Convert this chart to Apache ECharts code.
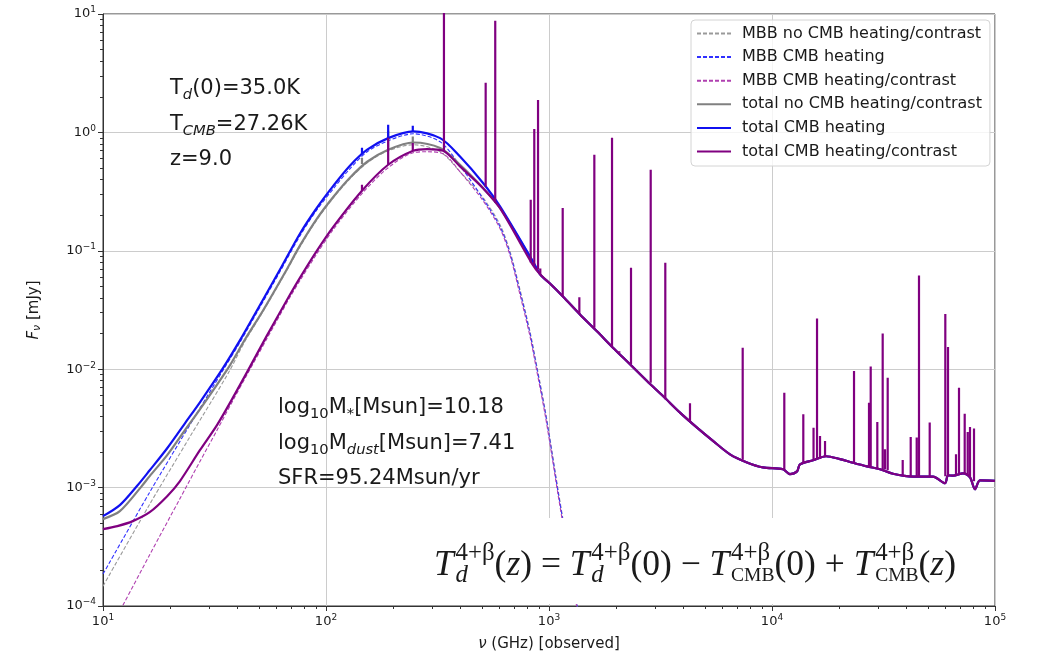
<!DOCTYPE html>
<html>
<head>
<meta charset="utf-8">
<script src="https://cdn.jsdelivr.net/npm/echarts@6/dist/echarts.min.js"></script>
<style>
  html, body { margin: 0; padding: 0; background: #fff; }
  #chart { width: 1043px; height: 660px; }
</style>
</head>
<body>
<div id="chart"></div>
<script>
// frequency in GHz (observed), flux density in mJy
const seriesNames = [
  'MBB no CMB heating/contrast',
  'MBB CMB heating',
  'MBB CMB heating/contrast',
  'total no CMB heating/contrast',
  'total CMB heating',
  'total CMB heating/contrast'
];

const xTickValues = [1e1, 1e2, 1e3, 1e4, 1e5];
const yTickValues = [1e-4, 1e-3, 1e-2, 1e-1, 1e0, 1e1];

const mbbNoCmb = [
  [10, 1.47e-4], [16.2, 7.24e-4], [24.6, 2.71e-3], [36.4, 9.22e-3], [43.3, 1.72e-2],
  [52.2, 3.07e-2], [65.5, 6.42e-2], [76.5, 0.1085], [91.1, 0.183], [108, 0.281],
  [128, 0.406], [153, 0.554], [190, 0.700], [246, 0.786], [325, 0.686], [399, 0.465],
  [506, 0.281], [603, 0.166], [669, 0.0985], [741, 0.0471], [822, 0.0208], [884, 0.01036],
  [960, 4.58e-3], [1031, 2.03e-3], [1097, 9.69e-4], [1155, 5.42e-4], [1268, 1.86e-4], [1349, 9.43e-5]
];

const mbbCmbHeating = [
  [10, 1.86e-4], [16.2, 9.15e-4], [24.6, 3.42e-3], [34.5, 9.77e-3], [41.1, 1.68e-2],
  [49.0, 3.01e-2], [62.2, 6.68e-2], [76.5, 0.134], [91.1, 0.2225], [108, 0.335],
  [128, 0.493], [153, 0.686], [190, 0.850], [246, 0.973], [325, 0.833], [399, 0.523],
  [506, 0.2755], [603, 0.160], [669, 0.0947], [741, 0.0453], [822, 0.0200], [884, 9.96e-3],
  [960, 4.41e-3], [1031, 1.95e-3], [1097, 9.32e-4], [1155, 5.21e-4], [1268, 1.79e-4], [1349, 9.07e-5]
];

const mbbCmbContrast = [
  [11.9, 9.15e-5], [12.3, 1.02e-4], [16.2, 2.71e-4], [22.1, 8.03e-4], [27.2, 1.66e-3],
  [32.5, 3.07e-3], [38.3, 5.46e-3], [44.7, 9.31e-3], [54.4, 1.82e-2], [69.0, 4.07e-2],
  [76.5, 5.61e-2], [91.1, 0.0947], [108, 0.152], [145, 0.304], [190, 0.503], [246, 0.673],
  [284, 0.686], [335, 0.660], [399, 0.465], [506, 0.265], [603, 0.154], [669, 0.0911],
  [741, 0.0427], [822, 0.0189], [884, 9.40e-3], [960, 4.16e-3], [1031, 1.84e-3],
  [1097, 8.80e-4], [1155, 4.91e-4], [1268, 1.69e-4], [1349, 8.56e-5]
];

const totalNoCmb = [
  [10, 5.42e-4], [11.9, 6.32e-4], [14.8, 1.01e-3], [16.2, 1.25e-3], [19.4, 1.88e-3],
  [23.3, 3.05e-3], [27.2, 4.58e-3], [36.4, 1.02e-2], [43.3, 1.78e-2], [52.2, 3.13e-2],
  [65.5, 6.55e-2], [76.5, 0.111], [91.1, 0.187], [108, 0.286], [128, 0.414], [153, 0.565],
  [190, 0.714], [246, 0.822], [325, 0.737], [399, 0.533], [506, 0.339], [603, 0.230], [848, 0.0803]
];

const totalCmbHeating = [
  [10, 5.74e-4], [11.9, 7.11e-4], [14.2, 1.03e-3], [16.2, 1.40e-3], [19.4, 2.15e-3],
  [23.3, 3.49e-3], [27.2, 5.25e-3], [34.5, 1.02e-2], [41.1, 1.75e-2], [49.0, 3.13e-2],
  [62.2, 6.94e-2], [76.5, 0.140], [91.1, 0.231], [108, 0.355], [128, 0.523], [153, 0.714],
  [190, 0.895], [246, 1.02], [325, 0.895], [399, 0.626], [506, 0.374], [603, 0.237], [848, 0.0811]
];

const totalCmbContrast = [
  [10, 4.46e-4], [11.6, 4.73e-4], [13.6, 5.21e-4], [16.2, 6.20e-4], [19.4, 8.46e-4],
  [22.1, 1.13e-3], [27.2, 2.07e-3], [32.5, 3.39e-3], [38.3, 5.78e-3], [44.7, 9.77e-3],
  [54.4, 1.93e-2], [69.0, 4.27e-2], [76.5, 5.94e-2], [91.1, 0.1004], [108, 0.160],
  [145, 0.322], [190, 0.533], [246, 0.700], [284, 0.723], [335, 0.700], [399, 0.516],
  [506, 0.338], [603, 0.229], [839, 0.078]
];

// high-frequency continuum, the three totals coincide here
const totalTail = [
  [914, 0.063], [1010, 0.0529], [1155, 0.0411], [1377, 0.0290], [1641, 0.0209], [1936, 0.0152],
  [2308, 0.0110], [2751, 7.94e-3], [3245, 5.93e-3], [3867, 4.30e-3], [4611, 3.21e-3],
  [5437, 2.48e-3], [6481, 1.91e-3], [7726, 1.63e-3], [9112, 1.48e-3], [11200, 1.43e-3],
  [12040, 1.30e-3], [12950, 1.37e-3], [13350, 1.57e-3], [15280, 1.70e-3], [17470, 1.84e-3],
  [20180, 1.74e-3], [23080, 1.62e-3], [26670, 1.51e-3], [30500, 1.43e-3], [34880, 1.31e-3],
  [42890, 1.24e-3], [52720, 1.24e-3], [59690, 1.09e-3], [61560, 1.27e-3], [65010, 1.26e-3],
  [71860, 1.32e-3], [77250, 1.22e-3], [81350, 9.69e-4], [85650, 1.15e-3], [100000, 1.14e-3]
];

// emission lines: [frequency, continuum level, line peak]
const contrastLines = [
  [145, 0.322, 0.362], [190, 0.533, 0.901], [245, 0.700, 0.812], [338, 0.700, 15],
  [520, 0.348, 2.63], [574, 0.255, 8.78], [828, 0.0795, 0.270], [859, 0.0750, 1.07],
  [893, 0.0694, 1.88], [914, 0.063, 0.0708], [1152, 0.0411, 0.230], [1368, 0.0293, 0.0405],
  [1597, 0.0224, 0.647], [1917, 0.0157, 0.90], [2067, 0.0138, 0.0142], [2332, 0.0110, 0.0718],
  [2858, 7.69e-3, 0.484], [3323, 5.57e-3, 0.0791], [4288, 3.65e-3, 5.15e-3], [7389, 1.72e-3, 0.0152],
  [11355, 1.43e-3, 6.34e-3], [13816, 1.61e-3, 4.16e-3], [15355, 1.70e-3, 3.21e-3],
  [15919, 1.74e-3, 0.0268], [16419, 1.75e-3, 2.73e-3], [17290, 1.82e-3, 2.48e-3],
  [23324, 1.62e-3, 9.64e-3], [27227, 1.51e-3, 5.22e-3], [27710, 1.50e-3, 1.056e-2],
  [29664, 1.46e-3, 3.58e-3], [31359, 1.43e-3, 2.00e-2], [32116, 1.42e-3, 2.11e-3],
  [33023, 1.40e-3, 8.48e-3], [38560, 1.27e-3, 1.71e-3], [41879, 1.25e-3, 2.68e-3],
  [44554, 1.24e-3, 2.65e-3], [45623, 1.24e-3, 0.0618], [50958, 1.24e-3, 3.54e-3],
  [59867, 1.25e-3, 0.0293], [61562, 1.27e-3, 0.0154], [66850, 1.26e-3, 1.91e-3],
  [68958, 1.28e-3, 6.98e-3], [73134, 1.32e-3, 4.20e-3], [75442, 1.27e-3, 2.95e-3],
  [77252, 1.22e-3, 3.25e-3], [80509, 1.13e-3, 3.15e-3]
];
const heatingLines = [[145, 0.654, 0.742], [190, 0.895, 1.159], [245, 1.018, 1.137]];
const noCmbLines = [[145, 0.54, 0.611], [190, 0.714, 1.032], [245, 0.822, 0.924]];

const FONT = 'DejaVu Sans';
const MATH = 'Liberation Serif';
const INK = '#1a1a1a';

const minorTicks = (majors) => {
  const out = [];
  majors.slice(0, -1).forEach(m => { for (let k = 2; k < 10; k++) out.push(m * k); });
  return out;
};

const powLabel = (v) => {
  const e = Math.round(Math.log10(v));
  return '10{e|' + String(e).replace('-', '\u2212') + '}';
};

const spikeData = (lines) => {
  const out = [];
  lines.forEach(([f, base, peak]) => { out.push([f, base], [f, peak], [f, '-']); });
  return out;
};

// itemStyle opacity 0 keeps the legend icon a bare line (no marker dot)
const curve = (name, data, color, width, dash) => ({
  name, type: 'line', data, symbol: 'none', showSymbol: false, smooth: 0.3,
  silent: true, clip: true,
  lineStyle: { color, width, type: dash ? [4, 2] : 'solid' },
  itemStyle: { color, opacity: 0 }
});

const lines = (name, data, color) => ({
  name, type: 'line', data: spikeData(data), symbol: 'none', showSymbol: false,
  connectNulls: false, silent: true, clip: true,
  lineStyle: { color, width: 2.2, cap: 'butt' },
  itemStyle: { color, opacity: 0 }
});

// --- text helpers (sub/superscripts laid out piece by piece) ---
const measureCtx = document.createElement('canvas').getContext('2d');
const fontOf = (size, italic, family) => (italic ? 'italic ' : '') + size.toFixed(2) + 'px "' + family + '"';

function mathRun(pieces, x, y, size, family) {
  const els = [];
  let cx = x, scriptStart = x;
  pieces.forEach(p => {
    const scripted = p.k === 'sup' || p.k === 'sub';
    const s = scripted ? size * (p.scale || 0.7) : size;
    const dy = p.k === 'sup' ? -(p.up || 0.36) * size : p.k === 'sub' ? (p.down || 0.28) * size : 0;
    const font = fontOf(s, p.it, p.family || family);
    measureCtx.font = font;
    const w = measureCtx.measureText(p.t).width;
    const px = p.stack ? scriptStart : cx + (p.kern || 0) * size;
    els.push({
      type: 'text', z: 101, silent: true,
      style: { text: p.t, x: px, y: y + dy, font, fill: INK, verticalAlign: 'middle', align: 'left' }
    });
    if (p.stack) {
      cx = Math.max(cx, scriptStart + w);
    } else {
      scriptStart = px; cx = px + w;
    }
  });
  return { els, width: cx - x };
}

const note = (pieces, x, y) => mathRun(pieces, x, y, 21, FONT).els;

const formulaPieces = [
  { t: 'T', it: true }, { t: '4+\u03b2', k: 'sup', kern: 0.05 }, { t: 'd', k: 'sub', it: true, stack: true },
  { t: '(' }, { t: 'z', it: true }, { t: ')' }, { t: ' = ' },
  { t: 'T', it: true }, { t: '4+\u03b2', k: 'sup', kern: 0.05 }, { t: 'd', k: 'sub', it: true, stack: true },
  { t: '(0)' }, { t: ' \u2212 ' },
  { t: 'T', it: true }, { t: '4+\u03b2', k: 'sup', kern: 0.05 }, { t: 'CMB', k: 'sub', scale: 0.55, stack: true },
  { t: '(0)' }, { t: ' + ' },
  { t: 'T', it: true }, { t: '4+\u03b2', k: 'sup', kern: 0.05 }, { t: 'CMB', k: 'sub', scale: 0.55, stack: true },
  { t: '(' }, { t: 'z', it: true }, { t: ')' }
];
const formulaWidth = 522;
const trial = mathRun(formulaPieces, 0, 0, 35, MATH).width;
const formula = mathRun(formulaPieces, 434, 566, 35 * formulaWidth / trial, MATH).els;

const graphics = [
  { type: 'rect', z: 100, silent: true, shape: { x: 425, y: 518, width: 565, height: 86 }, style: { fill: '#ffffff' } },
  ...formula,
  ...note([{ t: 'T' }, { t: 'd', k: 'sub', it: true }, { t: '(0)=35.0K' }], 170, 89),
  ...note([{ t: 'T' }, { t: 'CMB', k: 'sub', it: true }, { t: '=27.26K' }], 170, 125),
  ...note([{ t: 'z=9.0' }], 170, 160),
  ...note([{ t: 'log' }, { t: '10', k: 'sub' }, { t: 'M' }, { t: '*', k: 'sub' }, { t: '[Msun]=10.18' }], 278, 408),
  ...note([{ t: 'log' }, { t: '10', k: 'sub' }, { t: 'M' }, { t: 'dust', k: 'sub', it: true }, { t: '[Msun]=7.41' }], 278, 444),
  ...note([{ t: 'SFR=95.24Msun/yr' }], 278, 479)
];

const labelRich = {
  e: { fontSize: 9, fontFamily: FONT, color: INK, padding: [0, 0, 8, 0] }
};

const chart = echarts.init(document.getElementById('chart'), null, { renderer: 'canvas' });

chart.setOption({
  animation: false,
  backgroundColor: '#ffffff',
  textStyle: { fontFamily: FONT },
  grid: { left: 103, right: 48, top: 14, bottom: 54, show: true, borderColor: '#333333', borderWidth: 1 },
  legend: {
    data: seriesNames,
    orient: 'vertical',
    left: 691, top: 20,
    padding: [5, 8, 6, 5],
    itemWidth: 34, itemHeight: 12, itemGap: 6.6,
    backgroundColor: 'rgba(255,255,255,0.8)',
    borderColor: '#d4d4d4', borderWidth: 1, borderRadius: 4,
    selectedMode: false,
    itemStyle: { opacity: 0 },
    textStyle: { fontFamily: FONT, fontSize: 16, color: INK, lineHeight: 17, padding: [0, 0, 0, 6] }
  },
  xAxis: [{
    type: 'log', logBase: 10, min: 10, max: 1e5,
    name: '{i|\u03bd} (GHz) [observed]',
    nameLocation: 'middle', nameGap: 31,
    nameTextStyle: { fontFamily: FONT, fontSize: 15, color: INK, rich: { i: { fontFamily: FONT, fontSize: 15, fontStyle: 'italic', color: INK } } },
    axisLine: { show: true, onZero: false, lineStyle: { color: '#333333', width: 1 } },
    axisTick: { show: true, inside: false, length: 5, customValues: xTickValues, lineStyle: { color: '#333333' } },
    axisLabel: { customValues: xTickValues, formatter: powLabel, rich: labelRich, margin: 7, fontFamily: FONT, fontSize: 13, color: INK },
    splitLine: { show: true, lineStyle: { color: '#cccccc', width: 1 } }
  }, {
    type: 'log', logBase: 10, min: 10, max: 1e5, position: 'bottom', offset: 0,
    axisLine: { show: false }, axisLabel: { show: false }, splitLine: { show: false },
    axisTick: { show: true, inside: false, length: 3, customValues: minorTicks(xTickValues), lineStyle: { color: '#333333' } }
  }],
  yAxis: [{
    type: 'log', logBase: 10, min: 1e-4, max: 10,
    name: '{i|F}{s|\u03bd} [mJy]',
    nameLocation: 'middle', nameGap: 60, nameRotate: 90,
    nameTextStyle: {
      fontFamily: FONT, fontSize: 15, color: INK,
      rich: {
        i: { fontFamily: FONT, fontSize: 15, fontStyle: 'italic', color: INK },
        s: { fontFamily: FONT, fontSize: 11, fontStyle: 'italic', color: INK, padding: [6, 0, 0, 0] }
      }
    },
    axisLine: { show: true, onZero: false, lineStyle: { color: '#333333', width: 1 } },
    axisTick: { show: true, inside: false, length: 5, customValues: yTickValues, lineStyle: { color: '#333333' } },
    axisLabel: { customValues: yTickValues, formatter: powLabel, rich: labelRich, margin: 7, fontFamily: FONT, fontSize: 13, color: INK },
    splitLine: { show: true, lineStyle: { color: '#cccccc', width: 1 } }
  }, {
    type: 'log', logBase: 10, min: 1e-4, max: 10, position: 'left', offset: 0,
    axisLine: { show: false }, axisLabel: { show: false }, splitLine: { show: false },
    axisTick: { show: true, inside: false, length: 3, customValues: minorTicks(yTickValues), lineStyle: { color: '#333333' } }
  }],
  series: [
    curve(seriesNames[0], mbbNoCmb, '#9a9a9a', 1.1, true),
    curve(seriesNames[1], mbbCmbHeating, '#3030ff', 1.1, true),
    curve(seriesNames[2], mbbCmbContrast, '#b040b0', 1.1, true),
    curve(seriesNames[3], totalNoCmb.concat(totalTail), '#808080', 2.2, false),
    lines(seriesNames[3], noCmbLines, '#808080'),
    curve(seriesNames[4], totalCmbHeating.concat(totalTail), '#1010f0', 2.2, false),
    lines(seriesNames[4], heatingLines, '#1010f0'),
    curve(seriesNames[5], totalCmbContrast.concat(totalTail), '#800080', 2.2, false),
    lines(seriesNames[5], contrastLines, '#800080')
  ],
  graphic: graphics
});

window.addEventListener('resize', () => chart.resize());
</script>
</body>
</html>
